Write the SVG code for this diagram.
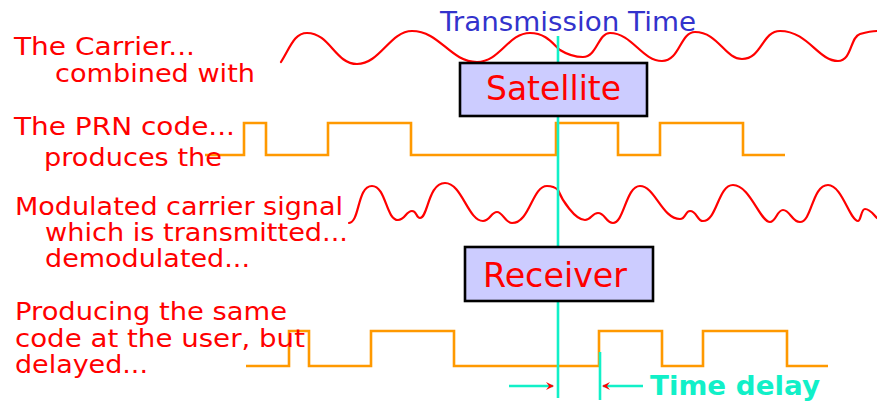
<svg xmlns="http://www.w3.org/2000/svg" width="877" height="401" viewBox="0 0 877 401">
<defs>
<style>
.lbl{font-family:"DejaVu Sans","Liberation Sans",sans-serif;font-size:25px;fill:#ff0000}
.box{fill:#ccccff;stroke:#000;stroke-width:2.6}
.boxt{font-family:"DejaVu Sans","Liberation Sans",sans-serif;font-size:33px;fill:#ff0000}
.wave{fill:none;stroke:#ff0000;stroke-width:2.2;stroke-linejoin:round;stroke-linecap:round}
.code{fill:none;stroke:#ff9900;stroke-width:2.6;stroke-linejoin:miter}
.cyan{stroke:#11f0c8;stroke-width:2.6;fill:none}
</style>
<marker id="ah" markerWidth="8" markerHeight="8" refX="7" refY="4" orient="auto" markerUnits="userSpaceOnUse">
<path d="M0,0 L8,4 L0,8 L3,4 Z" fill="#ff0000"/>
</marker>
</defs>
<rect width="877" height="401" fill="#ffffff"/>

<text x="440" y="31" font-family="DejaVu Sans, Liberation Sans, sans-serif" font-size="26" fill="#3333cc" textLength="256" lengthAdjust="spacingAndGlyphs">Transmission Time</text>

<path class="wave" d="M281,62 C290,48 294,33 307,33 C330,33 335,64 357,64 C380,64 390,31 412,31 C440,31 450,62 477,62 C500,62 508,33 530,33 C546,33 553,44 560,50 C568,55 575,57 583,57 C597,57 598,33 610,33 C632,33 642,61 662,61 C680,61 680,32 695,32 C718,32 725,59 742,59 C762,59 762,31 780,31 C808,31 818,61 838,61 C852,61 850,37 860,34 C867,32 872,31 877,31"/>

<polyline class="code" points="205,155 244,155 244,123 266,123 266,155 328,155 328,123 411,123 411,155 556,155 556,123 618,123 618,155 660,155 660,123 743,123 743,155 785,155"/>

<path class="wave" d="M349,223 C360,222 357,186 372,186 C386,186 386,220 398,220 C405,220 406,211 412,211 C417,211 416,218 420,218 C428,218 428,183 445,183 C462,183 468,221 483,221 C490,221 491,212 497,212 C503,212 505,223 512,223 C530,223 532,186 547,186 C552,186 556,188 558,190 C562,200 575,220 585,220 C591,220 592,213 598,213 C605,213 606,223 613,223 C624,223 626,186 640,186 C655,186 662,219 680,219 C686,219 685,211 690,211 C697,211 697,221 703,221 C717,221 718,185 733,185 C750,185 760,222 770,222 C776,222 777,210 783,210 C790,210 792,222 800,222 C812,222 812,185 828,185 C842,185 850,221 858,221 C861,221 861,209 865,209 C870,209 873,214 877,218"/>

<polyline class="code" points="246,366 289,366 289,331 309,331 309,366 371,366 371,331 454,331 454,366 599,366 599,331 662,331 662,366 703,366 703,331 787,331 787,366 828,366"/>

<line class="cyan" x1="558" y1="36" x2="558" y2="398"/>
<line class="cyan" x1="600" y1="352" x2="600" y2="400"/>

<g id="satellite">
<rect class="box" x="460" y="63" width="187" height="53"/>
<text class="boxt" x="553.5" y="100" text-anchor="middle" textLength="135" lengthAdjust="spacingAndGlyphs">Satellite</text>
</g>

<g id="receiver">
<rect class="box" x="465" y="247" width="188" height="54"/>
<text class="boxt" x="555" y="287" text-anchor="middle" textLength="144" lengthAdjust="spacingAndGlyphs">Receiver</text>
</g>

<g id="labels">
<text class="lbl" x="14" y="55" textLength="181" lengthAdjust="spacingAndGlyphs">The Carrier...</text>
<text class="lbl" x="55" y="82" textLength="200" lengthAdjust="spacingAndGlyphs">combined with</text>
<text class="lbl" x="14" y="135" textLength="221" lengthAdjust="spacingAndGlyphs">The PRN code...</text>
<text class="lbl" x="44" y="166" textLength="178" lengthAdjust="spacingAndGlyphs">produces the</text>
<text class="lbl" x="15" y="215" textLength="328" lengthAdjust="spacingAndGlyphs">Modulated carrier signal</text>
<text class="lbl" x="45" y="241" textLength="303" lengthAdjust="spacingAndGlyphs">which is transmitted...</text>
<text class="lbl" x="45" y="267" textLength="205" lengthAdjust="spacingAndGlyphs">demodulated...</text>
<text class="lbl" x="15" y="320" textLength="272" lengthAdjust="spacingAndGlyphs">Producing the same</text>
<text class="lbl" x="15" y="347" textLength="290" lengthAdjust="spacingAndGlyphs">code at the user, but</text>
<text class="lbl" x="15" y="373" textLength="133" lengthAdjust="spacingAndGlyphs">delayed...</text>
</g>

<g id="connectors">
<line class="cyan" x1="509" y1="386" x2="553" y2="386" marker-end="url(#ah)"/>
<line class="cyan" x1="643" y1="386" x2="603" y2="386" marker-end="url(#ah)"/>
</g>

<g id="time-delay">
<text x="650" y="395" font-family="DejaVu Sans, Liberation Sans, sans-serif" font-size="27" font-weight="bold" fill="#11f0c8" textLength="170" lengthAdjust="spacingAndGlyphs">Time delay</text>
</g>
</svg>
